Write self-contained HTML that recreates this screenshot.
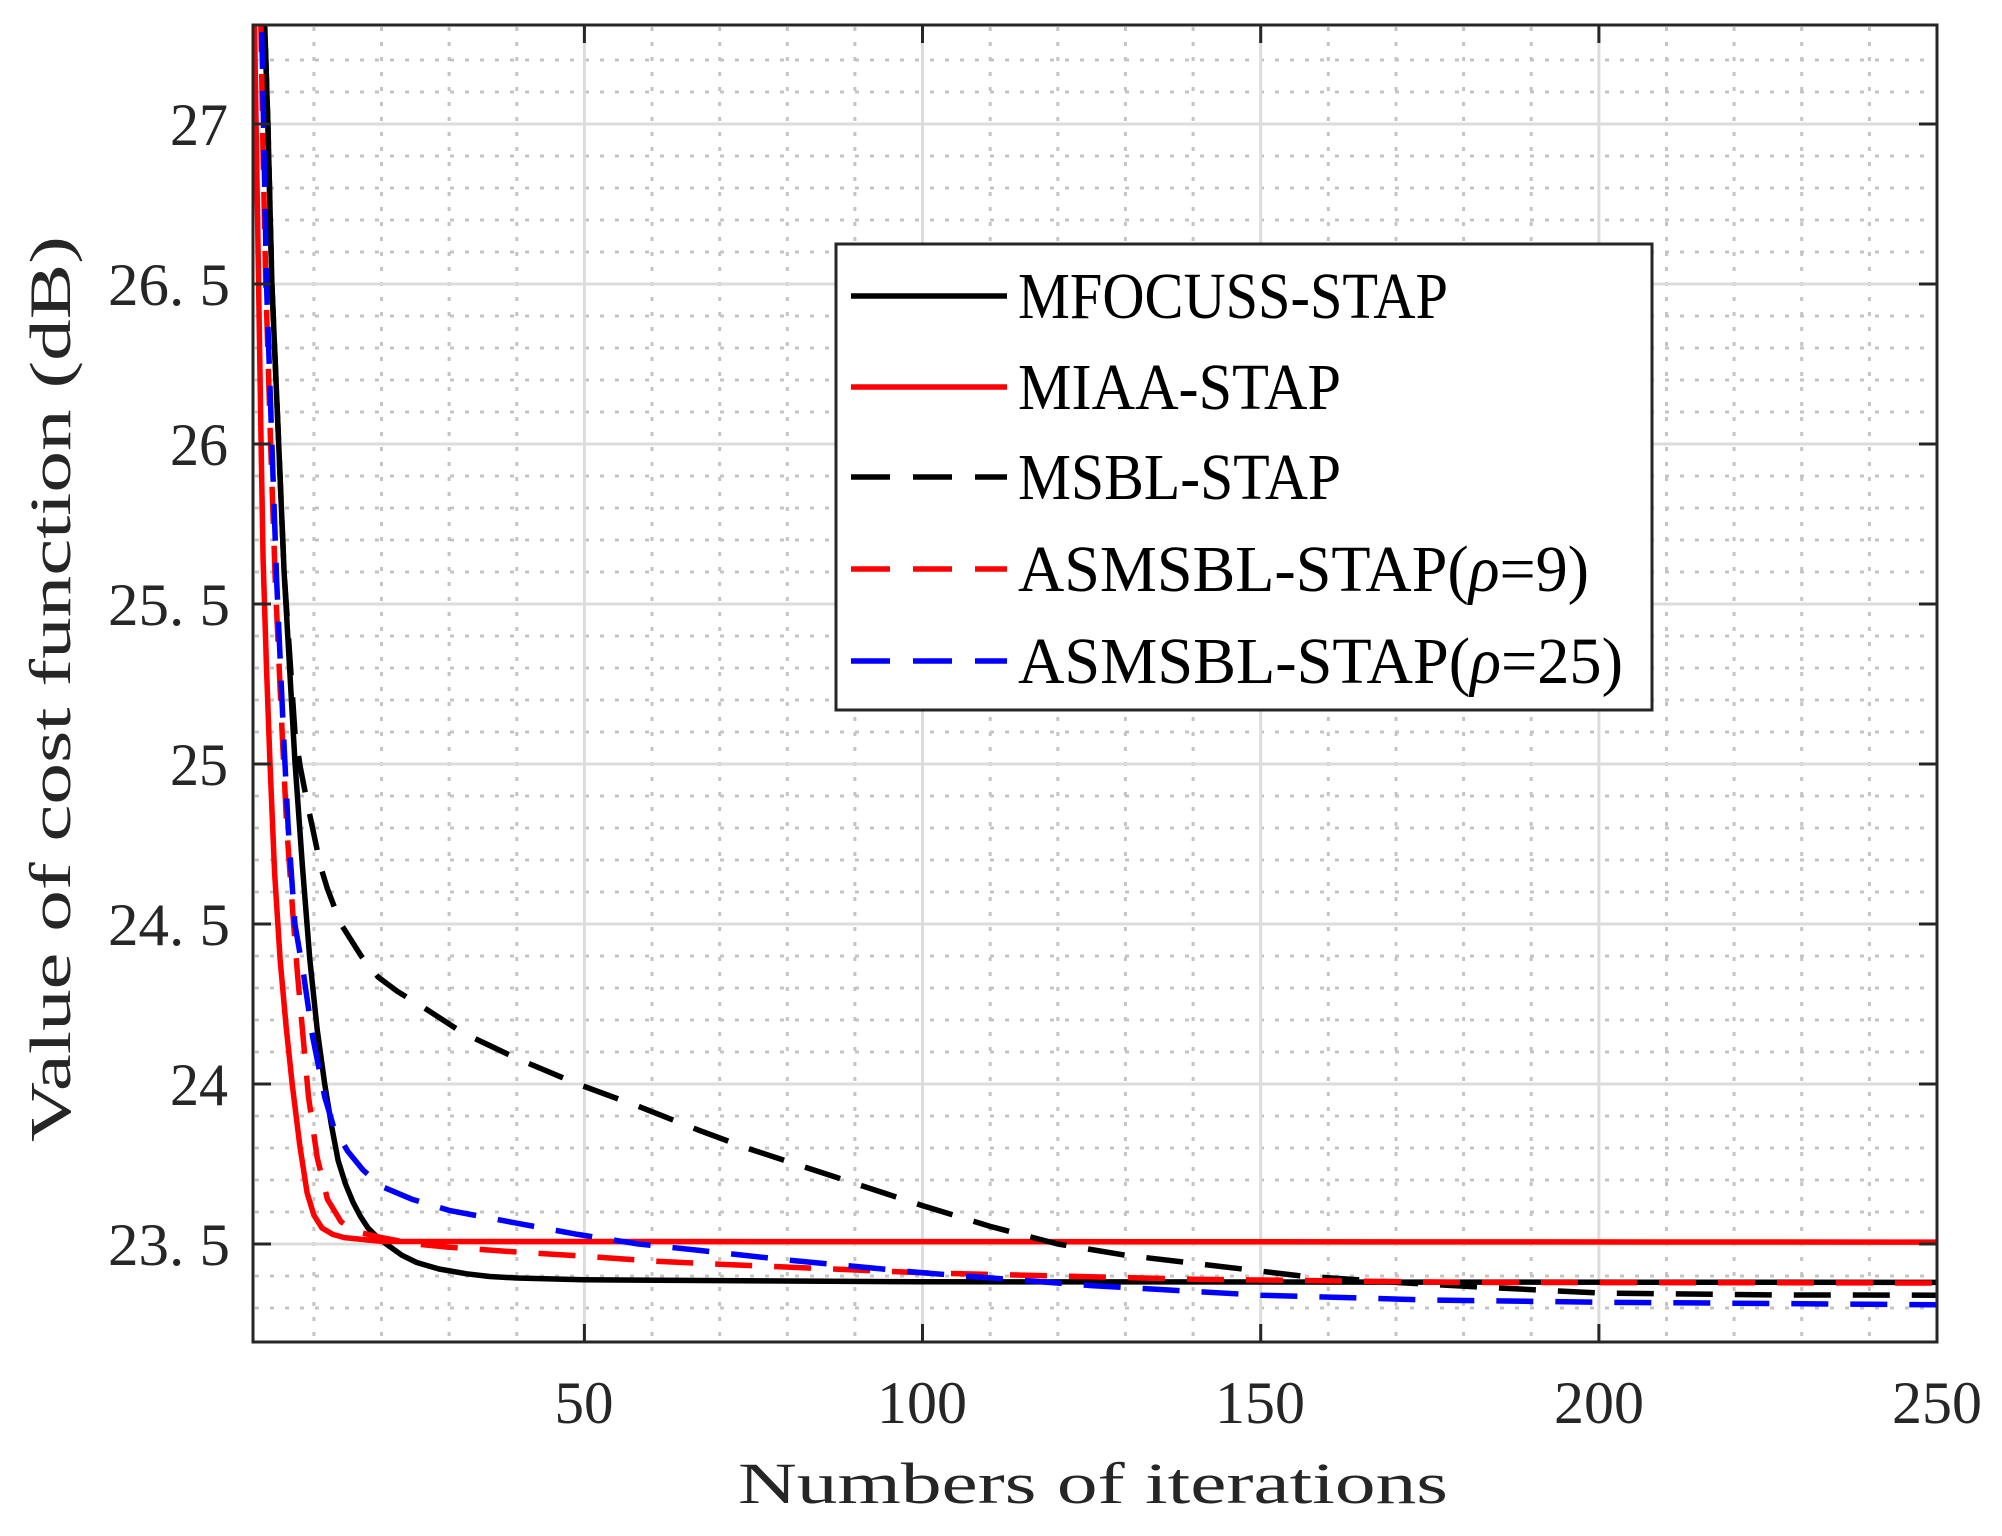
<!DOCTYPE html>
<html><head><meta charset="utf-8"><style>html,body{margin:0;padding:0;background:#fff}svg{display:block}</style></head>
<body>
<svg width="2002" height="1536" viewBox="0 0 2002 1536" xmlns="http://www.w3.org/2000/svg">
<defs><clipPath id="cp"><rect x="253" y="25" width="1684" height="1317"/></clipPath></defs>
<rect width="2002" height="1536" fill="#fff"/>
<g stroke="#c4c4c4" stroke-width="3" stroke-dasharray="4 11" fill="none">
<path d="M313.9 27V1340M381.5 27V1340M449.1 27V1340M516.8 27V1340M652 27V1340M719.7 27V1340M787.3 27V1340M854.9 27V1340M990.2 27V1340M1057.8 27V1340M1125.4 27V1340M1193.1 27V1340M1328.3 27V1340M1396 27V1340M1463.6 27V1340M1531.2 27V1340M1666.5 27V1340M1734.1 27V1340M1801.7 27V1340M1869.4 27V1340"/>
<path d="M255 1308H1935M255 1276H1935M255 1212H1935M255 1180H1935M255 1148H1935M255 1116H1935M255 1052H1935M255 1020H1935M255 988H1935M255 956H1935M255 892H1935M255 860H1935M255 828H1935M255 796H1935M255 732H1935M255 700H1935M255 668H1935M255 636H1935M255 572H1935M255 540H1935M255 508H1935M255 476H1935M255 412H1935M255 380H1935M255 348H1935M255 316H1935M255 252H1935M255 220H1935M255 188H1935M255 156H1935M255 92H1935M255 60H1935"/>
</g>
<g stroke="#dcdcdc" stroke-width="3" fill="none">
<path d="M584.4 27V1340M922.5 27V1340M1260.7 27V1340M1598.9 27V1340"/>
<path d="M255 1244H1935M255 1084H1935M255 924H1935M255 764H1935M255 604H1935M255 444H1935M255 284H1935M255 124H1935"/>
</g>
<g clip-path="url(#cp)" fill="none" stroke-width="5.5" stroke-linejoin="round" stroke-linecap="butt">
<polyline stroke="#000" points="253,-836 259.8,-260 263.8,-4 267.9,124 271.9,284 278.7,444 284.1,572 294.9,760.8 302.4,866 309.8,959.2 317.2,1029.6 324.7,1084 331.5,1125.6 338.2,1160.8 345.5,1184 353.1,1202.4 360.5,1216.5 368,1228 376.5,1236.5 386.2,1244 401.8,1255.2 416.7,1262.5 439,1269 466.7,1273.8 489.7,1276.5 516.8,1278 583,1279.8 922.5,1281.8 1937,1282.4"/>
<polyline stroke="#f00" points="253,-68 257.1,188 261.1,444 263.1,559.2 266.5,668 269.9,760.8 274.6,872.8 280.1,959.2 286.1,1026.4 292.2,1084 299.7,1144.8 307.1,1192.8 313.9,1215.2 322,1228 332.8,1234.4 344.3,1237.6 381.5,1241.4 1937,1242.1"/>
<polyline stroke="#000" stroke-dasharray="37 22" points="253,-836 259.8,-260 263.8,-4 267.9,124 271.9,284 278.7,444 284.1,572 294.9,732 300.3,767.2 307.8,805.6 313.9,834.4 320.6,866.4 327.4,888.8 340.9,924 361.2,956 378.1,977 397.1,991.2 428.2,1010.4 462.7,1032.8 516.8,1058.4 577.6,1084 638.5,1106.4 699.4,1130.4 746.7,1148 834.6,1176.8 922.5,1205.6 990.2,1226.4 1057.8,1244 1125.4,1255.2 1193.1,1263.2 1301.3,1276 1396,1282.4 1477.1,1286.9 1598.9,1293 1768,1294.9 1937,1295.2"/>
<polyline stroke="#f00" stroke-dasharray="37 22" points="253,-516 260.4,-4 263.1,156 265.8,284 270.6,444 275.3,581.6 282.1,732 286.8,828 293.6,924 297.6,975.2 303,1036 308.5,1096.8 317.2,1157.6 327.4,1199.2 340.9,1221.6 354.4,1231.2 381.5,1237.6 415.3,1244 449.1,1247.2 516.8,1252 584.4,1256.2 652,1261 719.7,1264.2 922.5,1272.8 1193.1,1279.2 1463.6,1282.4 1937,1283"/>
<polyline stroke="#00f" stroke-dasharray="37 22" points="253,-676 261.1,-4 266.5,284 271.9,444 276.7,581.6 283.4,732 288.2,828 294.9,924 303.7,975.2 312.5,1036 324.7,1096.8 334.2,1128.8 347.7,1151.2 363,1170 381.5,1186.4 411.9,1199.2 449.1,1210.4 516.8,1223.2 577.6,1234.4 638.5,1244 699.4,1250.4 787.3,1260 922.5,1272.8 1091.6,1285.6 1260.7,1295.2 1429.8,1300 1598.9,1302.2 1937,1304.8"/>
</g>
<g stroke="#262626" stroke-width="3" fill="none">
<rect x="253" y="25" width="1684" height="1317"/>
<path d="M584.4 1342V1324M922.5 1342V1324M1260.7 1342V1324M1598.9 1342V1324M584.4 25V43M922.5 25V43M1260.7 25V43M1598.9 25V43"/>
<path d="M253 1244H271M253 1084H271M253 924H271M253 764H271M253 604H271M253 444H271M253 284H271M253 124H271M1937 1244H1919M1937 1084H1919M1937 924H1919M1937 764H1919M1937 604H1919M1937 444H1919M1937 284H1919M1937 124H1919"/>
</g>
<g font-family="Liberation Serif, serif" fill="#262626" font-size="60">
<text x="228" y="145" text-anchor="end" textLength="58" lengthAdjust="spacingAndGlyphs">27</text>
<text x="230" y="305" text-anchor="end" textLength="122" lengthAdjust="spacingAndGlyphs">26. 5</text>
<text x="228" y="465" text-anchor="end" textLength="58" lengthAdjust="spacingAndGlyphs">26</text>
<text x="230" y="625" text-anchor="end" textLength="122" lengthAdjust="spacingAndGlyphs">25. 5</text>
<text x="228" y="785" text-anchor="end" textLength="58" lengthAdjust="spacingAndGlyphs">25</text>
<text x="230" y="945" text-anchor="end" textLength="122" lengthAdjust="spacingAndGlyphs">24. 5</text>
<text x="228" y="1105" text-anchor="end" textLength="58" lengthAdjust="spacingAndGlyphs">24</text>
<text x="230" y="1265" text-anchor="end" textLength="122" lengthAdjust="spacingAndGlyphs">23. 5</text>
<text x="584" y="1423" text-anchor="middle" textLength="59" lengthAdjust="spacingAndGlyphs">50</text>
<text x="922" y="1423" text-anchor="middle" textLength="90" lengthAdjust="spacingAndGlyphs">100</text>
<text x="1260" y="1423" text-anchor="middle" textLength="90" lengthAdjust="spacingAndGlyphs">150</text>
<text x="1599" y="1423" text-anchor="middle" textLength="90" lengthAdjust="spacingAndGlyphs">200</text>
<text x="1937" y="1423" text-anchor="middle" textLength="90" lengthAdjust="spacingAndGlyphs">250</text>
<text x="738" y="1503" font-size="58" textLength="710" lengthAdjust="spacingAndGlyphs">Numbers of iterations</text>
<text transform="translate(70,1142) rotate(-90)" font-size="58" textLength="906" lengthAdjust="spacingAndGlyphs">Value of cost function (dB)</text>
</g>
<rect x="836" y="244" width="816" height="466" fill="#fff" stroke="#262626" stroke-width="3"/>
<g stroke-width="5.5" fill="none">
<line x1="851" y1="296" x2="1007" y2="296" stroke="#000"/>
<line x1="851" y1="387" x2="1007" y2="387" stroke="#f00"/>
<line x1="851" y1="477" x2="1007" y2="477" stroke="#000" stroke-dasharray="39 23"/>
<line x1="851" y1="569" x2="1007" y2="569" stroke="#f00" stroke-dasharray="39 23"/>
<line x1="851" y1="661" x2="1007" y2="661" stroke="#00f" stroke-dasharray="39 23"/>
</g>
<g font-family="Liberation Serif, serif" font-size="66" fill="#000">
<text x="1018" y="318" textLength="430" lengthAdjust="spacingAndGlyphs">MFOCUSS-STAP</text>
<text x="1018" y="409" textLength="323" lengthAdjust="spacingAndGlyphs">MIAA-STAP</text>
<text x="1018" y="499" textLength="323" lengthAdjust="spacingAndGlyphs">MSBL-STAP</text>
<text x="1018" y="591" textLength="571" lengthAdjust="spacingAndGlyphs">ASMSBL-STAP(<tspan font-style="italic">ρ</tspan>=9)</text>
<text x="1018" y="683" textLength="605" lengthAdjust="spacingAndGlyphs">ASMSBL-STAP(<tspan font-style="italic">ρ</tspan>=25)</text>
</g>
</svg>
</body></html>
